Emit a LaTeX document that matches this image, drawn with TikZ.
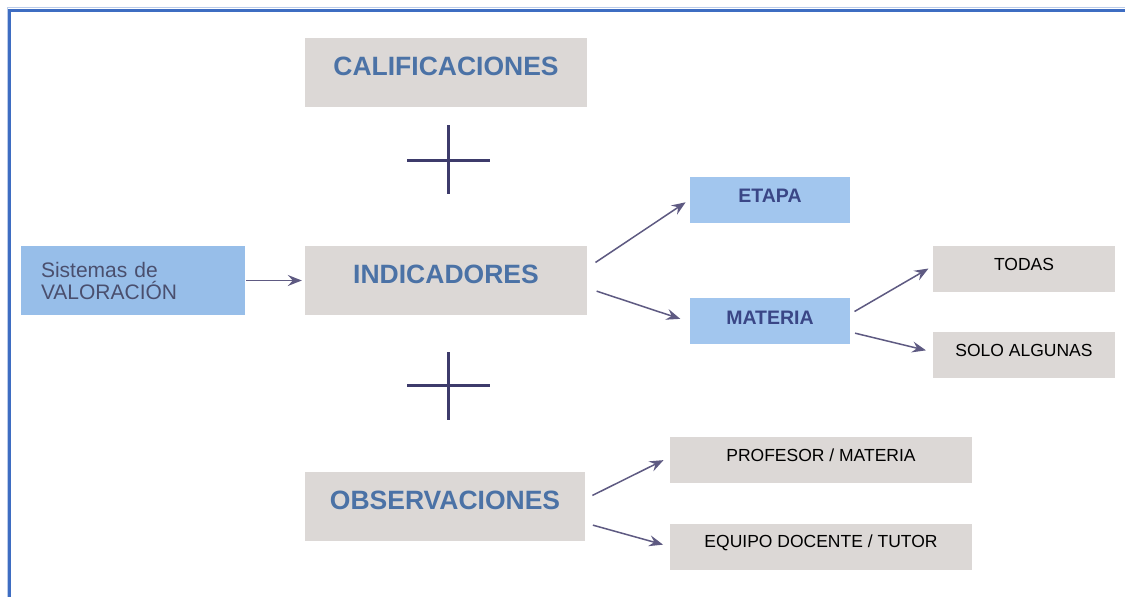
\documentclass[tikz,border=0pt]{standalone}
\usepackage{fontspec}
\setmainfont{Liberation Sans}
\usetikzlibrary{arrows.meta}
\definecolor{graybox}{HTML}{DCD8D6}
\definecolor{bluebox}{HTML}{A2C6EE}
\definecolor{bluebox2}{HTML}{97BEE9}
\definecolor{frameblue}{HTML}{3E6DC2}
\definecolor{titleblue}{HTML}{4B72A6}
\definecolor{darkblue}{HTML}{3A4686}
\definecolor{plusc}{HTML}{3D3B6B}
\definecolor{arrowc}{HTML}{5E5A82}
\definecolor{sistc}{HTML}{4A4F6E}
\begin{document}
\begin{tikzpicture}[x=1pt,y=-1pt,
  titlebox/.style={fill=graybox,inner sep=0pt,minimum width=282pt,minimum height=69pt,
    font=\fontsize{26.5}{28}\selectfont\bfseries,text=titleblue,text height=5.6pt,text depth=0pt},
  bluenode/.style={fill=bluebox,inner sep=0pt,minimum width=160pt,minimum height=46pt,
    font=\fontsize{19.5}{21}\selectfont\bfseries,text=darkblue,text height=6pt,text depth=0pt},
  subbox/.style={fill=graybox,inner sep=0pt,minimum height=46pt,
    font=\fontsize{17.5}{19}\selectfont,text=black,text height=2.5pt,text depth=0pt},
  conn/.style={draw=arrowc,line width=1.5pt,-{Stealth[length=14pt,width=11pt,inset=5pt]}},
  plus/.style={draw=plusc,line width=3pt}]
\useasboundingbox (0,0) rectangle (1125,597);
\fill[white] (0,0) rectangle (1125,597);
% frame
\draw[frameblue,line width=3pt] (9,597) -- (9,10) -- (1125,10);
\draw[frameblue!35,line width=1pt] (7.5,597) -- (7.5,7.5) -- (1125,7.5);

% main boxes
\node[titlebox] (cal) at (446,72.5) {CALIFICACIONES};
\node[titlebox] (ind) at (446,280.5) {INDICADORES};
\node[titlebox,minimum width=280pt] (obs) at (445,506.5) {OBSERVACIONES};

\node[fill=bluebox2,inner xsep=20pt,inner ysep=0pt,minimum height=69pt,text width=184pt,align=left,
  font=\fontsize{21}{22}\selectfont,text=sistc] (sis) at (133,280.5) {Sistemas de\\VALORACIÓN};

\node[bluenode] (eta) at (770,199.5) {ETAPA};
\node[bluenode] (mat) at (770,321) {MATERIA};

\node[subbox,minimum width=182pt] (tod) at (1024,269) {TODAS};
\node[subbox,minimum width=182pt] (sol) at (1024,355) {SOLO ALGUNAS};
\node[subbox,minimum width=302pt] (pro) at (821,460) {PROFESOR / MATERIA};
\node[subbox,minimum width=302pt] (equ) at (821,546.5) {EQUIPO DOCENTE / TUTOR};

% plus signs
\draw[plus] (407,160) -- (490,160);
\draw[plus] (448.5,125) -- (448.5,194);
\draw[plus] (407,385) -- (490,385);
\draw[plus] (448.5,352) -- (448.5,420);

% connectors
\draw[conn,shorten <=1pt,shorten >=3pt] (sis.east) -- (ind.west);
\draw[conn,shorten <=10pt,shorten >=5pt] ([yshift=12.5pt]ind.east) -- (eta.west);
\draw[conn,shorten <=10pt,shorten >=10pt] ([yshift=-7.5pt]ind.east) -- ([yshift=-1pt]mat.west);
\draw[conn,shorten <=5pt,shorten >=5pt] ([yshift=7pt]mat.east) -- ([yshift=3pt]tod.west);
\draw[conn,shorten <=5pt,shorten >=7pt] ([yshift=-11pt]mat.east) -- ([yshift=3pt]sol.west);
\draw[conn,shorten <=8pt,shorten >=7pt] ([yshift=7.5pt]obs.east) -- ([yshift=3pt]pro.west);
\draw[conn,shorten <=8pt,shorten >=7pt] ([yshift=-16.5pt]obs.east) -- (equ.west);
\end{tikzpicture}
\end{document}
